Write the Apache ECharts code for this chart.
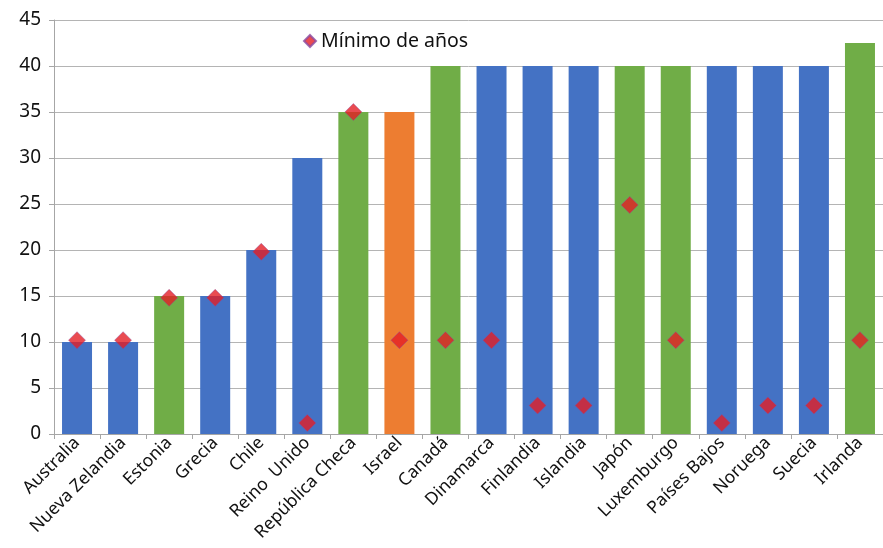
<!DOCTYPE html>
<html><head><meta charset="utf-8">
<script src="https://cdn.jsdelivr.net/npm/echarts@6/dist/echarts.min.js"></script>
<style>html,body{margin:0;padding:0;background:#fff}#c{width:883px;height:548px}</style>
</head><body><div id="c"></div>
<script>
const categories = ["Australia","Nueva Zelandia","Estonia","Grecia","Chile","Reino  Unido","República Checa","Israel","Canadá","Dinamarca","Finlandia","Islandia","Japón","Luxemburgo","Países Bajos","Noruega","Suecia","Irlanda"];
const maxYears = [10,10,15,15,20,30,35,35,40,40,40,40,40,40,40,40,40,42.5];
const barGroup = ["b","b","g","b","b","b","g","o","g","b","b","b","g","g","b","b","b","g"];
const minYears = [10.2,10.2,14.8,14.8,19.8,1.2,35,10.2,10.2,10.2,3.1,3.1,24.9,10.2,1.2,3.1,3.1,10.2];
const yTicks = [0,5,10,15,20,25,30,35,40,45];

const palette = {b:"#4472C4", g:"#70AD47", o:"#ED7D31"};
const chart = echarts.init(document.getElementById('c'));
chart.setOption({
  animation:false,
  backgroundColor:'#fff',
  legend:{
    data:[{name:'Mínimo de años'}],
    left:298, top:26, itemWidth:12, itemHeight:12, itemGap:7,
    textStyle:{fontFamily:'Noto Sans', fontSize:19.5, color:'#111'}
  },
  grid:{left:54, right:-10, top:20, bottom:114, containLabel:false},
  xAxis:{
    type:'category', data:categories,
    axisLine:{lineStyle:{color:'#a6a6a6'}},
    axisTick:{show:true, length:5, lineStyle:{color:'#a6a6a6'}},
    axisLabel:{rotate:45, interval:0, fontFamily:'Noto Sans', fontSize:17.5, color:'#111', margin:6}
  },
  yAxis:{
    type:'value', min:0, max:45, interval:5,
    axisLine:{show:true, lineStyle:{color:'#a6a6a6'}},
    axisTick:{show:true, length:5, lineStyle:{color:'#a6a6a6'}},
    splitLine:{lineStyle:{color:'#b4b4b4'}},
    axisLabel:{fontFamily:'Noto Sans', fontSize:19, color:'#111', margin:13,
      formatter:v=>yTicks.includes(v)?String(v):''}
  },
  series:[
    {type:'bar', name:'Máximo', barWidth:30,
     data:maxYears.map((v,i)=>({value:v, itemStyle:{color:palette[barGroup[i]]}}))},
    {type:'scatter', name:'Mínimo de años', symbol:'diamond', symbolSize:17, z:5,
     itemStyle:{color:'#E41E26', borderColor:'#8a4aa0', borderWidth:0.5},
     data:minYears}
  ]
});
</script></body></html>
